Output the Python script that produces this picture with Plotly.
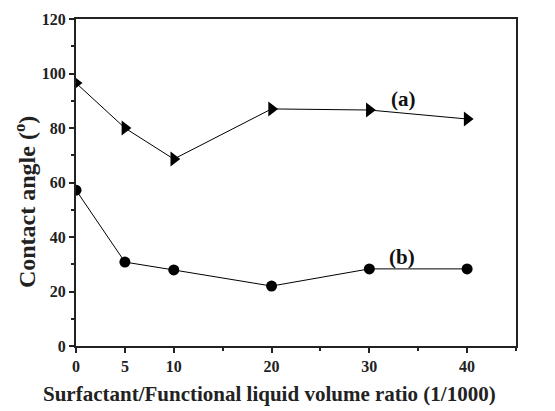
import plotly.graph_objects as go

ratio = [0, 5, 10, 20, 30, 40]
angle_a = [96.5, 80, 68.6, 87, 86.6, 83.3]
angle_b = [57.2, 30.8, 27.9, 22, 28.3, 28.3]
x_tick_vals = [0, 5, 10, 20, 30, 40]
x_tick_text = ["0", "5", "10", "20", "30", "40"]
y_tick_vals = [0, 20, 40, 60, 80, 100, 120]
x_title = "Surfactant/Functional liquid volume ratio (1/1000)"
y_title = "Contact angle (<sup>o</sup>)"

font_family = "Liberation Serif"

fig = go.Figure()
fig.add_trace(go.Scatter(
    x=ratio, y=angle_a, mode="lines+markers",
    line=dict(color="black", width=1),
    marker=dict(symbol="triangle-right", size=13, color="black"),
    name="(a)", showlegend=False))
fig.add_trace(go.Scatter(
    x=ratio, y=angle_b, mode="lines+markers",
    line=dict(color="black", width=1),
    marker=dict(symbol="circle", size=11, color="black"),
    name="(b)", showlegend=False))

fig.add_annotation(x=33.5, y=90.5, text="(a)", showarrow=False,
                   font=dict(family=font_family, size=21, color="#111", weight="bold"))
fig.add_annotation(x=33.3, y=32.5, text="(b)", showarrow=False,
                   font=dict(family=font_family, size=21, color="#111", weight="bold"))

# axis titles as paper annotations for exact placement
fig.add_annotation(xref="paper", yref="paper", x=0.44, y=-0.147, text=x_title,
                   showarrow=False, xanchor="center", yanchor="middle",
                   font=dict(family=font_family, size=21, color="#222", weight="bold"))
fig.add_annotation(xref="paper", yref="paper", x=-0.116, y=0.44, text=y_title,
                   showarrow=False, xanchor="center", yanchor="middle", textangle=-90,
                   font=dict(family=font_family, size=24, color="#222", weight="bold"))

axis_common = dict(
    showline=True, linecolor="#222", linewidth=2, mirror=True, automargin=False,
    showgrid=False, zeroline=False, ticks="outside", tickcolor="#222",
    tickwidth=1.5, ticklen=5,
    tickfont=dict(family=font_family, size=16, color="#222", weight="bold"),
)

fig.update_xaxes(
    range=[0, 45], tickmode="array", tickvals=x_tick_vals, ticktext=x_tick_text,
    minor=dict(dtick=5, tick0=0, ticks="outside", ticklen=3, tickcolor="#222", tickwidth=1.5),
    **axis_common)
fig.update_yaxes(
    range=[0, 120], tickmode="array", tickvals=y_tick_vals,
    minor=dict(dtick=10, tick0=0, ticks="outside", ticklen=3, tickcolor="#222", tickwidth=1.5),
    **axis_common)

# page body has an 8px default margin, so the figure is sized to fit the window
fig.update_layout(
    width=547, height=403,
    margin=dict(l=68, r=39, t=11, b=65),
    paper_bgcolor="white", plot_bgcolor="white",
)

fig.write_html("out.html")
